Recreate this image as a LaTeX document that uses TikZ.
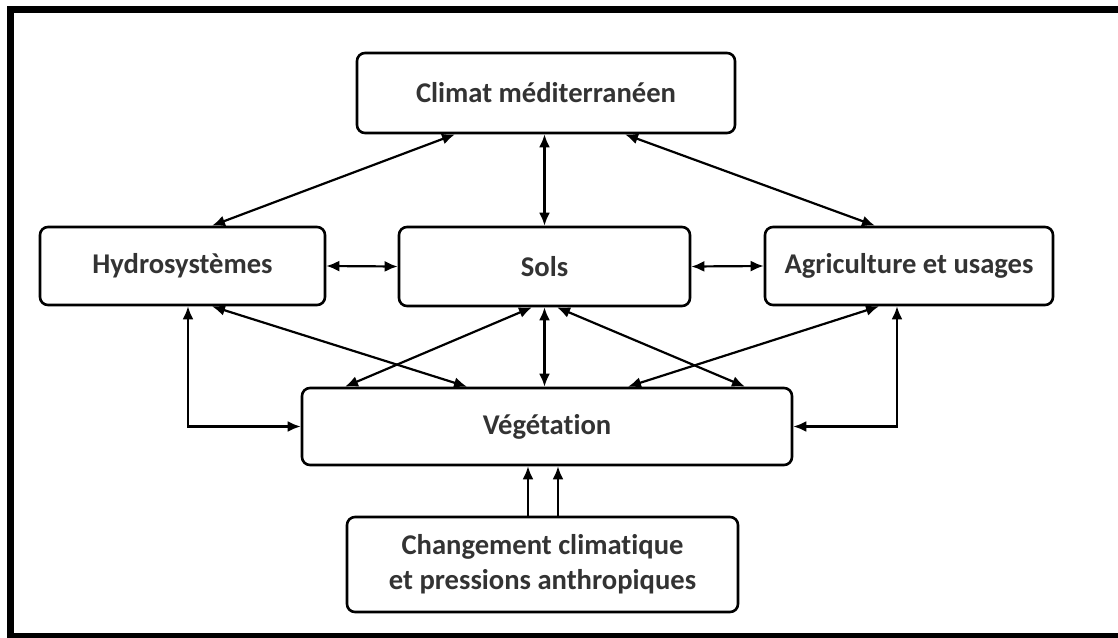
\documentclass[tikz,border=0pt]{standalone}
\usepackage{fontspec}
\setmainfont{Carlito}[Ligatures={NoCommon,NoContextual}]
\usetikzlibrary{arrows.meta}
\begin{document}
\begin{tikzpicture}[x=0.5pt,y=-0.5pt,
    box/.style={draw,line width=1.3pt,rounded corners=4pt,inner sep=0pt,align=center,
        text=black!80,font=\bfseries\fontsize{14.3}{17.5}\selectfont},
    link/.style={line width=1.1pt,{Latex[length=6.5pt,width=5.5pt]}-{Latex[length=6.5pt,width=5.5pt]}},
    push/.style={line width=1.1pt,-{Latex[length=6.5pt,width=5.5pt]}}]
    \useasboundingbox (0,0) rectangle (1118,637);
    \draw[line width=3.5pt] (10.5,9.5) rectangle (1140,636.5);
    \node[box,minimum width=189pt,minimum height=40pt] (clim) at (546,93) {Climat méditerranéen};
    \node[box,minimum width=142.5pt,minimum height=39pt] (hydro) at (182.5,266) {Hydrosystèmes};
    \node[box,minimum width=145.5pt,minimum height=39.5pt] (sols) at (544.5,266.5) {Sols};
    \node[box,minimum width=144pt,minimum height=39pt] (agri) at (909,266) {Agriculture et usages};
    \node[box,minimum width=245pt,minimum height=38.5pt] (veg) at (547,426.5) {Végétation};
    \node[box,minimum width=195.5pt,minimum height=47.5pt] (chg) at (542.5,564.5) {Changement climatique\\et pressions anthropiques};
    \draw[link] ([xshift=-45.5pt]clim.south) -- ([xshift=14.75pt]hydro.north);
    \draw[link] (sols.north |- clim.south) -- (sols.north);
    \draw[link] ([xshift=39.5pt]clim.south) -- ([xshift=-17pt]agri.north);
    \draw[link] (hydro.east) -- (sols.west);
    \draw[link] (sols.east) -- (agri.west);
    \draw[link] ([xshift=14.75pt]hydro.south) -- ([xshift=-40pt]veg.north);
    \draw[link] ([xshift=-6.25pt]sols.south) -- ([xshift=-101pt]veg.north);
    \draw[link] (sols.south) -- (sols.south |- veg.north);
    \draw[link] ([xshift=6.25pt]sols.south) -- ([xshift=99pt]veg.north);
    \draw[link] ([xshift=-15pt]agri.south) -- ([xshift=40.5pt]veg.north);
    \draw[link] ([xshift=2.75pt]hydro.south) |- (veg.west);
    \draw[link] ([xshift=-6pt]agri.south) |- (veg.east);
    \draw[push] ([xshift=-7.25pt]chg.north) -- ([xshift=-7.25pt]chg.north |- veg.south);
    \draw[push] ([xshift=7.75pt]chg.north) -- ([xshift=7.75pt]chg.north |- veg.south);
\end{tikzpicture}
\end{document}
